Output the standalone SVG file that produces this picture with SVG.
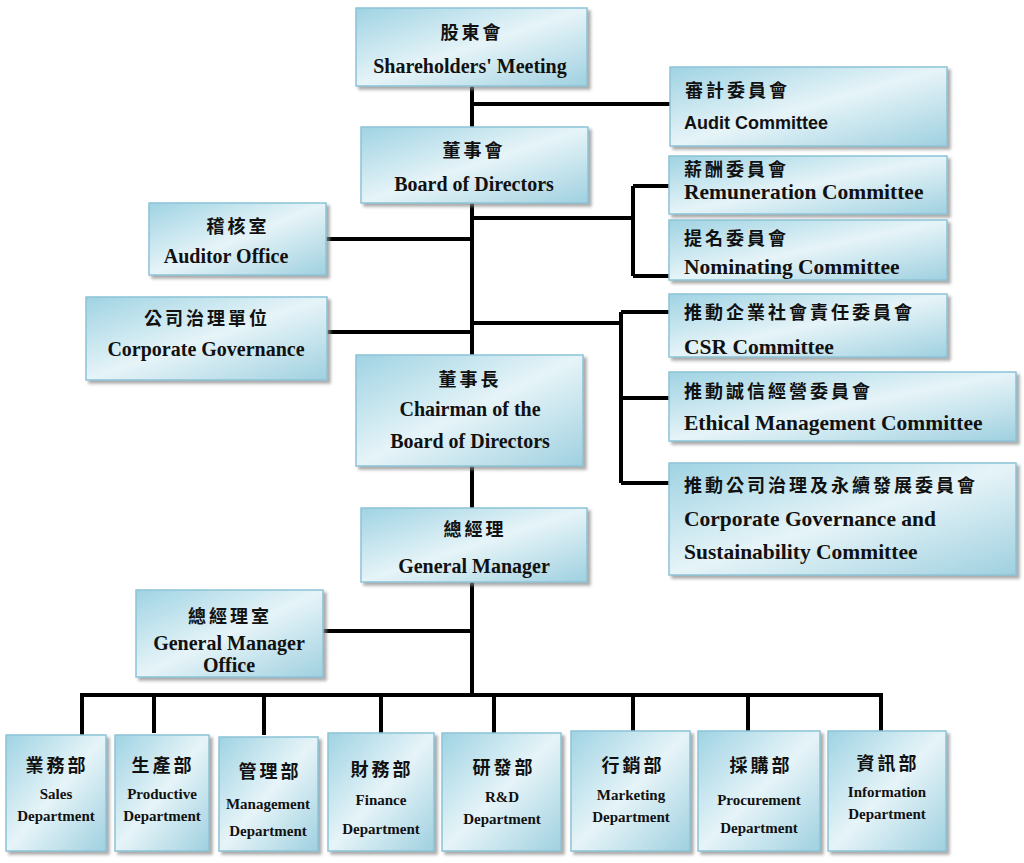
<svg xmlns="http://www.w3.org/2000/svg" width="1024" height="863" viewBox="0 0 1024 863">
<defs>
<linearGradient id="g" x1="0" y1="0" x2="1" y2="1">
<stop offset="0" stop-color="#9fd3e3"/><stop offset="0.5" stop-color="#e6f4f8"/><stop offset="1" stop-color="#9fd0e0"/>
</linearGradient>
<filter id="sh" x="-5%" y="-5%" width="115%" height="120%"><feDropShadow dx="3" dy="3" stdDeviation="1.5" flood-color="#888" flood-opacity="0.7"/></filter>
</defs>
<style>
.b{fill:url(#g);stroke:#8cc3d6;stroke-width:1.5;filter:url(#sh)}
.zh{font-family:"Noto Sans CJK TC",sans-serif;font-weight:bold;font-size:18px;fill:#111;letter-spacing:3px}
.en{font-family:"Liberation Serif",serif;font-weight:bold;font-size:20px;fill:#111}
.cm{font-size:21.5px}
.sm{font-family:"Liberation Serif",serif;font-weight:bold;font-size:15px;fill:#111}
.ss{font-family:"Liberation Sans",sans-serif;font-weight:bold;font-size:18px;fill:#111}
.c{text-anchor:middle}
#conn path{stroke:#000;stroke-width:4;fill:none}
</style>
<rect width="1024" height="863" fill="#fff"/>
<g id="conn">
<path d="M472 86V127M472 203V355M472 466V508M472 582V695"/>
<path d="M472 104H670"/>
<path d="M472 218H633M633 186V276M633 186H669M633 276H669"/>
<path d="M326 239H472M327 332H472"/>
<path d="M472 323H621M621 312V483M621 312H669M621 398H669M621 483H669"/>
<path d="M323 631H472"/>
<path d="M82 695H881M82 693V735M154 693V733M264 693V735M381 693V733M494 693V733M633 693V731M748 693V731M881 693V731"/>
</g>
<g id="n1"><rect class="b" x="356" y="8" width="231" height="78"/><text class="zh c" x="472" y="39">股東會</text><text class="en c" x="470" y="73">Shareholders' Meeting</text></g>
<g id="n2"><rect class="b" x="670" y="67" width="277" height="79"/><text class="zh" x="685" y="97">審計委員會</text><text class="ss" x="684" y="129">Audit Committee</text></g>
<g id="n3"><rect class="b" x="361" y="127" width="227" height="76"/><text class="zh c" x="474" y="157">董事會</text><text class="en c" x="474" y="191">Board of Directors</text></g>
<g id="n4"><rect class="b" x="669" y="156" width="278" height="58"/><text class="zh" x="684" y="176">薪酬委員會</text><text class="en cm" x="684" y="199">Remuneration Committee</text></g>
<g id="n5"><rect class="b" x="669" y="220" width="278" height="60"/><text class="zh" x="684" y="245">提名委員會</text><text class="en cm" x="684" y="274">Nominating Committee</text></g>
<g id="n6"><rect class="b" x="149" y="203" width="177" height="72"/><text class="zh c" x="238" y="233">稽核室</text><text class="en c" x="226" y="263">Auditor Office</text></g>
<g id="n7"><rect class="b" x="86" y="297" width="241" height="83"/><text class="zh c" x="207" y="325">公司治理單位</text><text class="en c" x="206" y="356">Corporate Governance</text></g>
<g id="n8"><rect class="b" x="669" y="294" width="278" height="63"/><text class="zh" x="684" y="319">推動企業社會責任委員會</text><text class="en cm" x="684" y="354">CSR Committee</text></g>
<g id="n9"><rect class="b" x="669" y="372" width="347" height="69"/><text class="zh" x="684" y="398">推動誠信經營委員會</text><text class="en cm" x="684" y="430">Ethical Management Committee</text></g>
<g id="n10"><rect class="b" x="669" y="463" width="347" height="112"/><text class="zh" x="684" y="492">推動公司治理及永續發展委員會</text><text class="en cm" x="684" y="526">Corporate Governance and</text><text class="en cm" x="684" y="559">Sustainability Committee</text></g>
<g id="n11"><rect class="b" x="356" y="355" width="227" height="111"/><text class="zh c" x="470" y="386">董事長</text><text class="en c" x="470" y="416">Chairman of the</text><text class="en c" x="470" y="448">Board of Directors</text></g>
<g id="n12"><rect class="b" x="361" y="508" width="226" height="74"/><text class="zh c" x="475" y="536">總經理</text><text class="en c" x="474" y="573">General Manager</text></g>
<g id="n13"><rect class="b" x="136" y="590" width="187" height="87"/><text class="zh c" x="230" y="623">總經理室</text><text class="en c" x="229" y="650">General Manager</text><text class="en c" x="229" y="672">Office</text></g>
<g id="d1"><rect class="b" x="6" y="735" width="100" height="116"/><text class="zh c" x="57" y="772">業務部</text><text class="sm c" x="56" y="799">Sales</text><text class="sm c" x="56" y="821">Department</text></g>
<g id="d2"><rect class="b" x="115" y="735" width="94" height="116"/><text class="zh c" x="163" y="772">生產部</text><text class="sm c" x="162" y="799">Productive</text><text class="sm c" x="162" y="821">Department</text></g>
<g id="d3"><rect class="b" x="219" y="737" width="99" height="114"/><text class="zh c" x="270" y="778">管理部</text><text class="sm c" x="268" y="809">Management</text><text class="sm c" x="268" y="836">Department</text></g>
<g id="d4"><rect class="b" x="328" y="733" width="106" height="118"/><text class="zh c" x="382" y="776">財務部</text><text class="sm c" x="381" y="805">Finance</text><text class="sm c" x="381" y="834">Department</text></g>
<g id="d5"><rect class="b" x="442" y="733" width="119" height="118"/><text class="zh c" x="504" y="774">研發部</text><text class="sm c" x="502" y="802">R&amp;D</text><text class="sm c" x="502" y="824">Department</text></g>
<g id="d6"><rect class="b" x="571" y="731" width="119" height="120"/><text class="zh c" x="633" y="772">行銷部</text><text class="sm c" x="631" y="800">Marketing</text><text class="sm c" x="631" y="822">Department</text></g>
<g id="d7"><rect class="b" x="698" y="731" width="122" height="120"/><text class="zh c" x="761" y="772">採購部</text><text class="sm c" x="759" y="805">Procurement</text><text class="sm c" x="759" y="833">Department</text></g>
<g id="d8"><rect class="b" x="828" y="731" width="118" height="120"/><text class="zh c" x="888" y="770">資訊部</text><text class="sm c" x="887" y="797">Information</text><text class="sm c" x="887" y="819">Department</text></g>
</svg>
